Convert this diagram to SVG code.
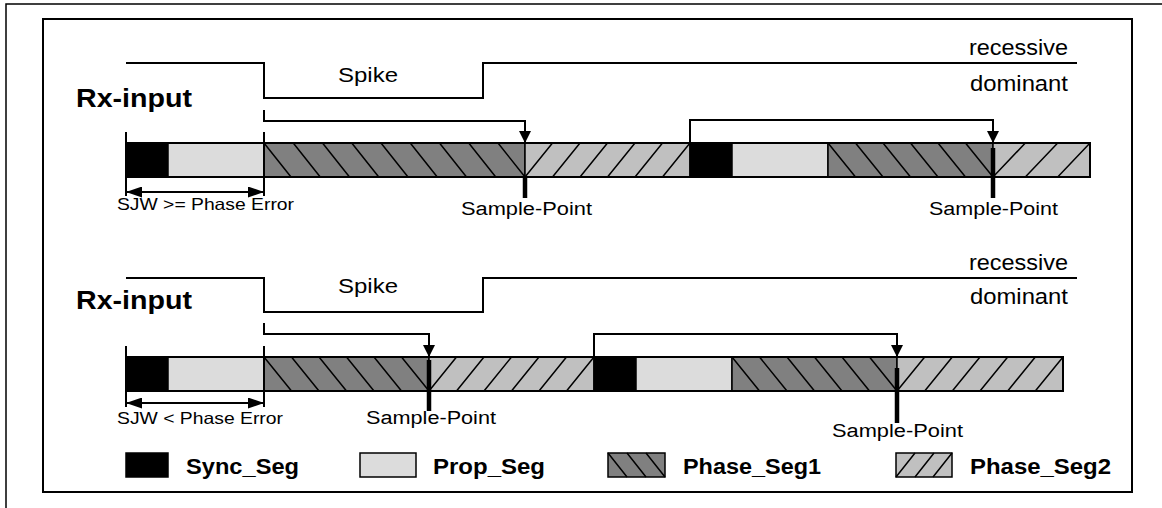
<svg xmlns="http://www.w3.org/2000/svg" width="1162" height="508" viewBox="0 0 1162 508">
<style>
text{font-family:"Liberation Sans",Arial,sans-serif;fill:#000}
.b{font-weight:bold}
.ln{fill:none;stroke:#000;stroke-width:2}
.sync{fill:#000;stroke:#000;stroke-width:1.5}
.prop{fill:#dcdcdc;stroke:#000;stroke-width:1.5}
.ph1{fill:#808080;stroke:#000;stroke-width:1.5}
.ph2{fill:#c0c0c0;stroke:#000;stroke-width:1.5}
.h{stroke:#000;stroke-width:1.5;fill:none}
.out{fill:none;stroke:#000;stroke-width:2}
.sp{stroke:#000;stroke-width:4.5;fill:none}
.tk{stroke:#000;stroke-width:2;fill:none}
</style>
<defs>
<marker id="arr" markerUnits="userSpaceOnUse" markerWidth="12" markerHeight="12" refX="12" refY="6" orient="auto">
<path d="M0,0 L12,6 L0,12 z" fill="#000"/>
</marker>
<marker id="arr2" markerUnits="userSpaceOnUse" markerWidth="16" markerHeight="11" refX="16" refY="5.5" orient="auto-start-reverse">
<path d="M0,0 L16,5.5 L0,11 z" fill="#000"/>
</marker>
</defs>
<rect width="1162" height="508" fill="#fff"/>
<path d="M6,508 V4 H1162" fill="none" stroke="#000" stroke-width="1.5"/>
<rect x="43" y="19" width="1089" height="473" fill="none" stroke="#000" stroke-width="2"/>

<!-- Upper diagram -->
<g id="rx-upper">
<text x="76" y="107" class="b" font-size="25" textLength="116" lengthAdjust="spacingAndGlyphs">Rx-input</text>
<path class="ln" d="M126,63 H264 V98 H483 V63 H1077"/>
<text x="338" y="82" font-size="20" textLength="60" lengthAdjust="spacingAndGlyphs">Spike</text>
<text x="969" y="55" font-size="22" textLength="99" lengthAdjust="spacingAndGlyphs">recessive</text>
<text x="970" y="91" font-size="22" textLength="98" lengthAdjust="spacingAndGlyphs">dominant</text>
</g>
<g id="bar-upper">
<rect class="sync" x="126" y="143" width="42" height="34"/>
<rect class="prop" x="168" y="143" width="96" height="34"/>
<rect class="ph1" x="264" y="143" width="261" height="34"/>
<path class="h" d="M264,143L291,177M293.25,143L320.25,177M322.5,143L349.5,177M351.75,143L378.75,177M381,143L408,177M410.25,143L437.25,177M439.5,143L466.5,177M468.75,143L495.75,177M498,143L525,177"/>
<rect class="ph2" x="525" y="143" width="165" height="34"/>
<path class="h" d="M525,177L552.5,143M552.5,177L580,143M580,177L607.5,143M607.5,177L635,143M635,177L662.5,143M662.5,177L690,143"/>
<rect class="sync" x="690" y="143" width="42" height="34"/>
<rect class="prop" x="732" y="143" width="96" height="34"/>
<rect class="ph1" x="828" y="143" width="165" height="34"/>
<path class="h" d="M828,143L855.5,177M855.5,143L883,177M883,143L910.5,177M910.5,143L938,177M938,143L965.5,177M965.5,143L993,177"/>
<rect class="ph2" x="993" y="143" width="97" height="34"/>
<path class="h" d="M993,177L1025.3,143M1025.3,177L1057.7,143M1057.7,177L1090,143"/>
<rect class="out" x="126" y="143" width="964" height="34"/>
</g>
<g id="sjw-upper">
<path class="tk" d="M126,132 V196 M264,132 V196"/>
<text x="117" y="210" font-size="16.5" textLength="177" lengthAdjust="spacingAndGlyphs">SJW &gt;= Phase Error</text>
</g>
<g id="sp-upper-1">
<path class="sp" d="M525,177 V198"/>
<text x="461" y="215" font-size="18" textLength="131" lengthAdjust="spacingAndGlyphs">Sample-Point</text>
</g>
<g id="sp-upper-2">
<path class="sp" d="M993,148 V198"/>
<text x="929" y="215" font-size="18" textLength="129" lengthAdjust="spacingAndGlyphs">Sample-Point</text>
</g>

<!-- Lower diagram -->
<g id="rx-lower">
<text x="76" y="309" class="b" font-size="25" textLength="116" lengthAdjust="spacingAndGlyphs">Rx-input</text>
<path class="ln" d="M126,278 H264 V312 H483 V278 H1077"/>
<text x="338" y="293" font-size="20" textLength="60" lengthAdjust="spacingAndGlyphs">Spike</text>
<text x="969" y="270" font-size="22" textLength="99" lengthAdjust="spacingAndGlyphs">recessive</text>
<text x="970" y="304" font-size="22" textLength="98" lengthAdjust="spacingAndGlyphs">dominant</text>
</g>
<g id="bar-lower">
<rect class="sync" x="126" y="357" width="42" height="34"/>
<rect class="prop" x="168" y="357" width="96" height="34"/>
<rect class="ph1" x="264" y="357" width="165" height="34"/>
<path class="h" d="M264,357L291.5,391M291.5,357L319,391M319,357L346.5,391M346.5,357L374,391M374,357L401.5,391M401.5,357L429,391"/>
<rect class="ph2" x="429" y="357" width="165" height="34"/>
<path class="h" d="M429,391L456.5,357M456.5,391L484,357M484,391L511.5,357M511.5,391L539,357M539,391L566.5,357M566.5,391L594,357"/>
<rect class="sync" x="594" y="357" width="42" height="34"/>
<rect class="prop" x="636" y="357" width="96" height="34"/>
<rect class="ph1" x="732" y="357" width="165" height="34"/>
<path class="h" d="M732,357L759.5,391M759.5,357L787,391M787,357L814.5,391M814.5,357L842,391M842,357L869.5,391M869.5,357L897,391"/>
<rect class="ph2" x="897" y="357" width="166" height="34"/>
<path class="h" d="M897,391L924.7,357M924.7,391L952.3,357M952.3,391L980,357M980,391L1007.7,357M1007.7,391L1035.3,357M1035.3,391L1063,357"/>
<rect class="out" x="126" y="357" width="937" height="34"/>
</g>
<g id="sjw-lower">
<path class="tk" d="M126,346 V407 M264,346 V407"/>
<text x="117" y="424" font-size="16.5" textLength="166" lengthAdjust="spacingAndGlyphs">SJW &lt; Phase Error</text>
</g>
<g id="sp-lower-1">
<path class="sp" d="M429,360 V411"/>
<text x="366" y="424" font-size="18" textLength="130" lengthAdjust="spacingAndGlyphs">Sample-Point</text>
</g>
<g id="sp-lower-2">
<path class="sp" d="M897,368 V423"/>
<text x="832" y="437" font-size="18" textLength="131" lengthAdjust="spacingAndGlyphs">Sample-Point</text>
</g>

<!-- Legend -->
<g id="legend-sync">
<rect class="sync" x="126" y="453" width="42" height="24"/>
<text x="186" y="474" class="b" font-size="22" textLength="113" lengthAdjust="spacingAndGlyphs">Sync_Seg</text>
</g>
<g id="legend-prop">
<rect class="prop" x="360" y="453" width="56" height="24"/>
<text x="433" y="474" class="b" font-size="22" textLength="112" lengthAdjust="spacingAndGlyphs">Prop_Seg</text>
</g>
<g id="legend-ph1">
<rect class="ph1" x="608" y="453" width="57" height="24"/>
<path class="h" d="M608,453L627,477M627,453L646,477M646,453L665,477"/>
<text x="683" y="474" class="b" font-size="22" textLength="138" lengthAdjust="spacingAndGlyphs">Phase_Seg1</text>
</g>
<g id="legend-ph2">
<rect class="ph2" x="896" y="453" width="56" height="24"/>
<path class="h" d="M896,477L915,453M915,477L934,453M933,477L952,453"/>
<text x="970" y="474" class="b" font-size="22" textLength="141" lengthAdjust="spacingAndGlyphs">Phase_Seg2</text>
</g>

<g id="connectors">
<path class="tk" d="M264,110 V121 H525 V143" marker-end="url(#arr)"/>
<path class="tk" d="M690,143 V120 H993 V143" marker-end="url(#arr)"/>
<path class="tk" d="M126,192 H264" marker-start="url(#arr2)" marker-end="url(#arr2)"/>
<path class="tk" d="M264,323 V334 H429 V357" marker-end="url(#arr)"/>
<path class="tk" d="M594,357 V334 H897 V357" marker-end="url(#arr)"/>
<path class="tk" d="M126,403 H264" marker-start="url(#arr2)" marker-end="url(#arr2)"/>
</g>
</svg>
